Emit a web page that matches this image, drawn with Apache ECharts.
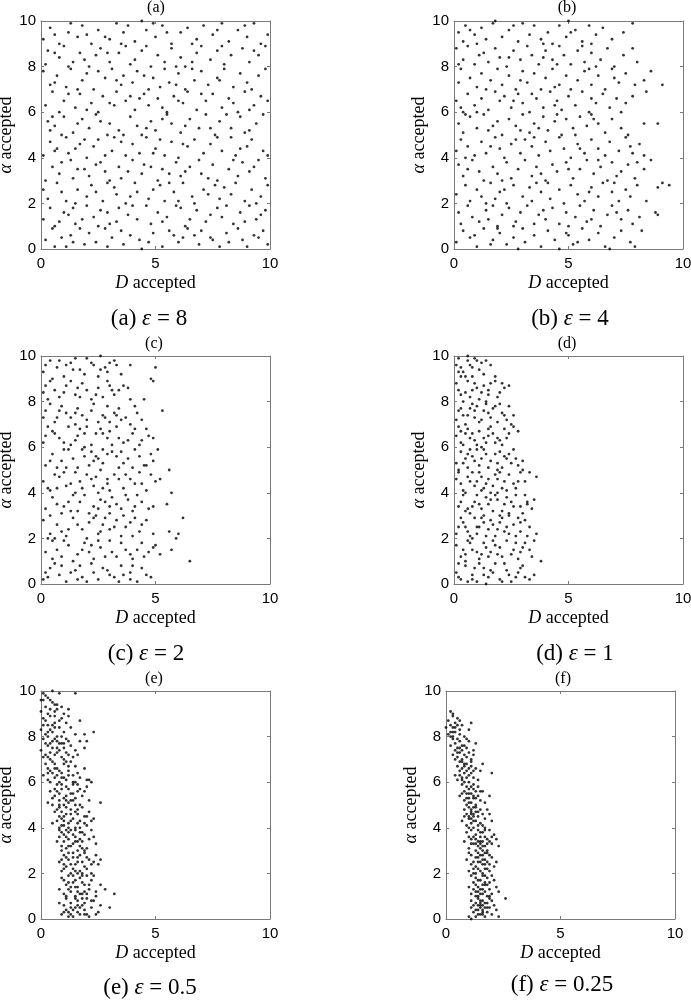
<!DOCTYPE html>
<html>
<head>
<meta charset="utf-8">
<script src="https://cdn.jsdelivr.net/npm/echarts@6/dist/echarts.min.js"></script>
<style>
  html, body { margin: 0; padding: 0; background: #fff; }
  #chart { width: 691px; height: 1002px; }
</style>
</head>
<body>
<div id="chart"></div>
<script>
// tick labels
const xTicks = [0, 5, 10]
const yTicks = [0, 2, 4, 6, 8, 10]
// panel captions
const panelLetters = ['a', 'b', 'c', 'd', 'e', 'f']
const epsValues = ['8', '4', '2', '1', '0.5', '0.25']

// accepted samples [D, alpha]
const pointsA = [
  [0.2,0.4],[0.5,0.9],[0.6,0.1],[1.3,0.6],[1.4,0.3],[1.9,0.2],[2.1,0.7],[2.8,0.9],[2.9,0.1],[3.1,0.5],[3.5,0.8],[3.6,0.2],[4.3,0.4],[4.4,0.0],[4.9,0.7],[5.3,0.1],[5.8,0.6],[6.0,0.3],[6.4,0.9],[6.9,0.2],[7.0,0.8],[7.4,0.5],[7.5,0.4],[8.1,0.7],[8.2,0.3],[8.6,0.9],[9.0,0.1],[9.3,0.6],[9.5,0.5],[9.9,0.2],[0.9,0.5],[1.7,0.9],[2.4,0.3],[3.9,0.6],[5.6,0.8],[6.7,0.6],[7.8,0.1],[8.8,0.4],[9.7,0.8],[4.7,0.3],[1.1,0.1],[6.2,0.5],
  [0.1,1.3],[0.4,1.8],[0.8,1.2],[1.0,1.6],[1.2,1.5],[1.5,1.1],[2.0,1.9],[2.3,1.4],[2.5,1.0],[2.6,1.7],[3.3,1.2],[3.4,1.8],[3.8,1.5],[4.2,1.3],[4.6,1.9],[4.8,1.1],[5.1,1.6],[5.5,1.4],[5.9,1.9],[6.3,1.0],[6.5,1.3],[6.8,1.7],[7.2,1.2],[7.7,1.8],[7.9,1.4],[8.4,1.1],[8.7,1.6],[9.1,1.9],[9.4,1.3],[9.8,1.7],[0.6,1.0],[1.8,1.3],[2.9,1.6],[4.0,1.9],[5.3,1.2],[6.1,1.8],[7.4,1.5],[8.9,1.2],[9.6,1.5],[3.0,1.1],[1.4,1.8],[8.1,1.9],
  [0.3,2.2],[0.7,2.9],[0.9,2.5],[1.5,2.0],[1.6,2.6],[2.0,2.3],[2.2,2.8],[2.7,2.1],[3.2,2.7],[3.3,2.4],[3.7,2.0],[4.1,2.9],[4.2,2.5],[4.7,2.2],[5.2,2.8],[5.4,2.1],[5.8,2.5],[6.2,2.9],[6.6,2.3],[6.7,2.0],[7.1,2.6],[7.6,2.8],[7.8,2.2],[8.3,2.4],[8.5,2.9],[8.9,2.1],[9.2,2.6],[9.6,2.3],[9.9,2.8],[0.1,2.6],[1.1,2.1],[2.4,2.5],[3.9,2.3],[4.9,2.6],[6.0,2.1],[7.3,2.4],[8.0,2.7],[9.4,2.0],[5.6,2.9],[2.9,2.9],
  [0.2,3.0],[0.5,3.6],[0.8,3.3],[1.3,3.9],[1.4,3.1],[1.9,3.5],[2.1,3.2],[2.6,3.8],[2.8,3.4],[3.4,3.6],[3.5,3.1],[4.0,3.9],[4.4,3.3],[4.5,3.7],[5.1,3.0],[5.3,3.5],[5.9,3.8],[6.1,3.2],[6.5,3.6],[6.9,3.9],[7.0,3.3],[7.5,3.7],[7.7,3.0],[8.2,3.5],[8.6,3.2],[8.8,3.8],[9.1,3.4],[9.5,3.9],[9.8,3.1],[0.9,3.8],[1.6,3.5],[3.0,3.0],[3.8,3.4],[4.8,3.6],[5.6,3.3],[6.3,3.4],[7.3,3.1],[8.4,3.9],[9.3,3.6],[2.4,3.7],
  [0.1,4.1],[0.4,4.7],[0.7,4.4],[1.1,4.9],[1.2,4.2],[1.7,4.6],[2.0,4.0],[2.3,4.5],[2.5,4.8],[3.1,4.3],[3.2,4.9],[3.7,4.1],[4.0,4.6],[4.3,4.2],[4.6,4.9],[5.0,4.4],[5.4,4.1],[5.7,4.7],[6.0,4.0],[6.4,4.5],[6.7,4.8],[7.1,4.2],[7.4,4.6],[7.9,4.3],[8.3,4.9],[8.5,4.1],[9.0,4.5],[9.2,4.8],[9.7,4.3],[9.9,4.1],[0.6,4.3],[1.5,4.4],[2.8,4.1],[3.5,4.7],[4.9,4.2],[6.2,4.6],[7.7,4.9],[8.7,4.4],[5.2,4.8],[1.9,4.8],
  [0.3,5.6],[0.4,5.2],[0.6,5.4],[1.0,5.8],[1.4,5.1],[1.8,5.7],[2.1,5.3],[2.4,5.9],[2.9,5.0],[3.0,5.5],[3.4,5.2],[3.9,5.8],[4.2,5.4],[4.4,5.0],[4.8,5.6],[5.0,5.2],[5.5,5.9],[5.7,5.5],[6.1,5.1],[6.5,5.7],[6.9,5.3],[7.2,5.9],[7.6,5.0],[7.8,5.6],[8.3,5.3],[8.7,5.8],[8.9,5.1],[9.4,5.5],[9.7,5.9],[0.9,5.0],[1.6,5.5],[2.6,5.6],[3.6,5.0],[4.6,5.3],[5.3,5.7],[6.3,5.4],[7.4,5.3],[8.1,5.9],[9.1,5.2],[0.5,5.8],
  [0.2,6.3],[0.5,6.9],[0.8,6.0],[1.0,6.5],[1.5,6.2],[1.7,6.8],[2.2,6.4],[2.5,6.0],[2.7,6.7],[3.2,6.3],[3.3,6.9],[3.7,6.5],[4.1,6.1],[4.5,6.8],[4.7,6.3],[5.1,6.6],[5.5,6.0],[5.8,6.7],[6.2,6.4],[6.4,6.9],[6.8,6.1],[7.2,6.5],[7.5,6.8],[7.9,6.2],[8.2,6.6],[8.6,6.0],[8.9,6.9],[9.3,6.3],[9.6,6.7],[9.9,6.5],[1.2,6.8],[2.0,6.1],[3.0,6.4],[3.9,6.7],[5.3,6.2],[6.0,6.5],[7.0,6.8],[8.4,6.4],[9.1,6.1],[4.3,6.6],
  [0.1,7.8],[0.4,7.2],[0.7,7.6],[1.1,7.1],[1.3,7.9],[1.8,7.4],[2.0,7.7],[2.3,7.0],[2.8,7.5],[3.1,7.9],[3.5,7.2],[3.6,7.6],[4.0,7.3],[4.2,7.8],[4.7,7.0],[4.9,7.5],[5.4,7.9],[5.6,7.3],[6.0,7.7],[6.3,7.0],[6.7,7.4],[7.0,7.8],[7.3,7.2],[7.7,7.5],[8.0,7.9],[8.4,7.1],[8.7,7.7],[9.0,7.3],[9.5,7.6],[9.8,7.9],[0.6,7.3],[1.6,7.0],[2.5,7.8],[3.3,7.4],[4.5,7.6],[5.9,7.2],[6.6,7.9],[7.8,7.4],[9.2,7.0],[5.2,7.1],
  [0.2,8.1],[0.3,8.7],[0.8,8.4],[1.0,8.9],[1.4,8.2],[1.7,8.6],[2.1,8.0],[2.4,8.5],[2.6,8.8],[3.0,8.2],[3.4,8.6],[3.7,8.9],[4.1,8.3],[4.4,8.7],[4.8,8.0],[5.1,8.5],[5.4,8.2],[5.7,8.8],[6.1,8.4],[6.3,8.0],[6.8,8.6],[7.0,8.9],[7.4,8.3],[7.7,8.7],[8.0,8.1],[8.3,8.5],[8.8,8.8],[9.1,8.2],[9.5,8.5],[9.8,8.9],[0.6,8.6],[1.2,8.0],[2.9,8.6],[3.9,8.1],[4.6,8.9],[5.9,8.0],[6.6,8.2],[7.9,8.9],[9.3,8.7],[1.9,8.3],
  [0.1,9.2],[0.4,9.7],[0.6,9.4],[1.2,9.5],[1.3,9.9],[1.6,9.3],[1.8,9.8],[2.2,9.0],[2.5,9.6],[3.0,9.2],[3.3,9.9],[3.6,9.5],[3.8,9.8],[4.1,9.1],[4.4,10.0],[4.6,9.6],[5.0,9.3],[5.3,9.8],[5.7,9.0],[6.1,9.5],[6.4,9.7],[6.8,9.2],[7.1,9.8],[7.5,9.4],[7.9,9.9],[8.2,9.1],[8.6,9.6],[9.0,9.3],[9.3,9.9],[9.6,9.0],[0.8,9.0],[2.0,9.4],[2.8,9.3],[4.9,9.9],[6.6,9.0],[7.7,9.6],[8.9,9.8],[9.9,9.4],[5.5,9.5],[3.5,9.0]
]

const pointsB = [
  [0.1,0.3],[0.4,0.8],[0.7,0.5],[1.0,0.1],[1.3,0.9],[1.6,0.2],[1.7,0.4],[2.0,0.7],[2.3,0.2],[2.6,0.5],[3.0,0.9],[3.1,0.3],[3.5,0.6],[3.8,0.1],[4.1,0.8],[4.4,0.4],[4.6,0.0],[5.0,0.6],[5.2,0.2],[5.6,0.9],[5.9,0.4],[6.3,0.7],[6.6,0.1],[6.8,0.0],[7.0,0.5],[7.3,0.8],[7.7,0.3],[8.2,0.8],[2.8,0.0],[5.4,0.3],[1.9,0.9],[4.9,0.7],[7.9,0.1],[0.9,0.6],
  [0.2,1.6],[0.3,1.1],[0.6,1.9],[0.8,1.4],[1.1,1.2],[1.4,1.7],[1.5,1.3],[1.9,1.0],[2.1,1.5],[2.4,1.8],[2.7,1.2],[2.9,1.6],[3.2,1.9],[3.5,1.1],[3.7,1.5],[4.0,1.3],[4.3,1.8],[4.6,1.1],[4.9,1.6],[5.3,1.4],[5.5,1.9],[5.8,1.2],[6.1,1.7],[6.4,1.0],[6.7,1.5],[6.9,1.9],[7.3,1.3],[7.6,1.7],[7.8,1.1],[8.1,1.4],[8.8,1.6],[8.9,1.5],[1.7,1.9],[3.9,1.7],[6.0,1.3],[2.6,1.0],[5.0,1.0],[7.1,1.6],
  [0.1,2.4],[0.5,2.8],[0.7,2.1],[1.0,2.6],[1.2,2.3],[1.6,2.9],[1.8,2.2],[2.2,2.6],[2.3,2.0],[2.6,2.8],[3.0,2.3],[3.3,2.7],[3.4,2.1],[3.8,2.5],[4.1,2.9],[4.2,2.2],[4.6,2.6],[4.8,2.0],[5.1,2.8],[5.4,2.4],[5.7,2.1],[6.0,2.7],[6.3,2.3],[6.5,2.9],[6.9,2.5],[7.2,2.1],[7.5,2.6],[7.7,2.3],[8.0,2.8],[8.4,2.1],[8.9,2.7],[9.1,2.9],[9.4,2.8],[2.0,2.5],[3.6,2.9],[5.9,2.5],[7.0,2.9],[1.4,2.0],
  [0.2,3.7],[0.4,3.2],[0.8,3.9],[1.1,3.4],[1.3,3.0],[1.7,3.6],[1.9,3.3],[2.3,3.8],[2.5,3.1],[2.8,3.5],[3.1,3.9],[3.4,3.2],[3.6,3.6],[4.0,3.0],[4.3,3.7],[4.5,3.4],[4.9,3.8],[5.2,3.1],[5.5,3.5],[5.8,3.9],[6.1,3.3],[6.4,3.6],[6.7,3.0],[6.9,3.8],[7.3,3.4],[7.6,3.7],[7.9,3.1],[8.3,3.5],[8.6,3.9],[0.6,3.5],[2.1,3.0],[3.8,3.3],[5.0,3.5],[6.3,3.9],[7.1,3.2],[8.0,3.8],
  [0.1,4.3],[0.3,4.8],[0.6,4.5],[0.9,4.1],[1.2,4.7],[1.4,4.2],[1.8,4.9],[2.0,4.4],[2.2,4.0],[2.5,4.6],[2.9,4.2],[3.1,4.8],[3.4,4.5],[3.7,4.1],[4.0,4.7],[4.2,4.3],[4.6,4.9],[4.8,4.4],[5.1,4.0],[5.4,4.6],[5.7,4.2],[6.0,4.8],[6.3,4.4],[6.6,4.1],[6.8,4.7],[7.2,4.3],[7.5,4.9],[7.8,4.2],[8.1,4.6],[8.3,4.1],[7.7,4.5],[1.6,4.5],[3.5,4.9],[5.5,4.4],[0.5,4.0],[2.7,4.8],
  [0.2,5.5],[0.4,5.1],[0.7,5.8],[1.0,5.3],[1.3,5.9],[1.5,5.2],[1.9,5.6],[2.1,5.0],[2.4,5.7],[2.7,5.4],[3.0,5.9],[3.3,5.1],[3.5,5.5],[3.9,5.8],[4.1,5.2],[4.4,5.6],[4.7,5.0],[4.9,5.7],[5.2,5.3],[5.5,5.8],[5.8,5.4],[6.0,5.9],[6.3,5.5],[6.6,5.1],[6.9,5.7],[7.3,5.3],[7.6,5.0],[8.3,5.5],[8.9,5.5],[1.7,5.4],[3.7,5.3],[5.3,5.0],[6.1,5.7],[2.9,5.2],[4.5,5.9],[0.5,5.9],
  [0.1,6.5],[0.4,6.0],[0.6,6.8],[0.9,6.3],[1.2,6.6],[1.5,6.1],[1.8,6.9],[2.0,6.5],[2.2,6.7],[2.5,6.2],[2.8,6.8],[3.0,6.4],[3.3,6.0],[3.6,6.6],[3.9,6.2],[4.2,6.9],[4.5,6.5],[4.7,6.1],[5.0,6.7],[5.3,6.3],[5.6,6.9],[5.9,6.0],[6.2,6.4],[6.5,6.8],[6.8,6.2],[7.1,6.6],[7.5,6.4],[7.8,6.7],[8.4,6.9],[1.0,6.0],[2.6,6.5],[4.4,6.3],[6.0,6.6],[7.3,6.0],[3.4,6.8],[0.3,6.2],
  [0.2,7.3],[0.3,7.9],[0.7,7.5],[1.0,7.1],[1.2,7.7],[1.6,7.4],[1.9,7.9],[2.1,7.2],[2.4,7.6],[2.7,7.0],[3.0,7.8],[3.2,7.3],[3.5,7.7],[3.8,7.0],[4.0,7.5],[4.3,7.9],[4.6,7.2],[4.9,7.6],[5.1,7.0],[5.4,7.4],[5.7,7.8],[6.0,7.2],[6.3,7.6],[6.6,7.0],[6.9,7.9],[7.2,7.3],[7.5,7.7],[7.9,7.2],[8.3,7.4],[8.6,7.8],[9.1,7.2],[1.4,7.0],[2.9,7.4],[4.4,7.1],[5.9,7.9],[7.0,7.5],
  [0.1,8.8],[0.4,8.3],[0.6,8.9],[0.9,8.1],[1.3,8.6],[1.5,8.2],[1.8,8.8],[2.0,8.4],[2.3,8.0],[2.6,8.7],[2.9,8.3],[3.2,8.9],[3.4,8.5],[3.7,8.1],[4.0,8.7],[4.3,8.3],[4.6,8.9],[4.8,8.5],[5.1,8.1],[5.4,8.7],[5.7,8.2],[6.0,8.6],[6.4,8.3],[6.7,8.8],[7.0,8.0],[7.4,8.5],[7.8,8.8],[8.0,8.2],[1.1,8.5],[2.4,8.4],[3.9,8.4],[5.6,8.9],[6.2,8.0],[0.2,8.1],[4.5,8.1],
  [0.2,9.5],[0.4,9.1],[0.5,9.8],[0.9,9.4],[1.2,9.7],[1.4,9.2],[1.7,9.9],[1.8,10.0],[2.1,9.3],[2.4,9.6],[2.8,9.1],[3.0,9.9],[3.3,9.4],[3.5,9.8],[3.8,9.2],[4.1,9.5],[4.3,9.0],[4.6,9.8],[4.9,9.3],[5.0,10.0],[5.3,9.6],[5.6,9.1],[5.9,9.8],[6.2,9.4],[6.5,9.7],[6.9,9.2],[7.4,9.5],[7.8,9.9],[1.0,9.0],[2.6,9.8],[3.9,9.0],[5.1,9.5],[6.0,9.0],[0.7,9.6]
]

const pointsC = [
  [0.1,0.2],[0.4,0.7],[0.8,0.4],[1.1,0.1],[1.5,0.6],[1.8,0.3],[2.2,0.9],[2.5,0.2],[2.9,0.6],[3.2,0.3],[3.5,0.8],[3.9,0.5],[4.2,0.1],[4.6,0.4],[4.8,0.3],[0.6,0.9],[1.3,0.5],[2.0,0.1],[2.7,0.7],[3.4,0.1],[4.0,0.8],[0.2,0.5],[6.5,1.0],[1.7,0.8],[3.0,0.4],
  [0.2,1.4],[0.5,1.9],[0.9,1.2],[1.2,1.7],[1.6,1.3],[1.9,1.8],[2.3,1.1],[2.6,1.6],[3.0,1.9],[3.3,1.2],[3.7,1.5],[4.0,1.1],[4.4,1.8],[4.7,1.4],[5.2,1.3],[5.7,1.5],[0.7,1.5],[1.4,1.0],[2.1,1.4],[2.8,1.2],[3.5,1.8],[4.2,1.5],[3.9,1.3],[4.9,1.6],[1.0,1.9],
  [0.1,2.8],[0.4,2.2],[0.7,2.6],[1.1,2.1],[1.4,2.9],[1.8,2.4],[2.1,2.7],[2.5,2.2],[2.8,2.9],[3.2,2.5],[3.5,2.1],[3.9,2.7],[4.3,2.3],[4.6,2.8],[4.9,2.2],[5.6,2.3],[6.0,2.2],[5.9,2.0],[0.9,2.3],[1.6,2.6],[2.3,2.9],[3.0,2.4],[3.7,2.5],[4.1,2.9],[2.7,2.6],
  [0.2,3.3],[0.5,3.8],[0.9,3.1],[1.2,3.6],[1.6,3.2],[1.9,3.9],[2.3,3.4],[2.6,3.7],[3.0,3.1],[3.3,3.5],[3.7,3.9],[4.0,3.2],[4.4,3.6],[4.7,3.3],[5.5,3.5],[6.2,2.9],[0.7,3.5],[1.4,3.9],[2.1,3.1],[2.8,3.6],[3.5,3.3],[4.2,3.9],[3.1,3.8],[1.0,3.4],[2.4,3.0],
  [0.1,4.5],[0.4,4.1],[0.8,4.7],[1.1,4.3],[1.5,4.9],[1.8,4.2],[2.2,4.6],[2.5,4.0],[2.9,4.4],[3.2,4.8],[3.6,4.2],[3.9,4.6],[4.3,4.9],[4.6,4.1],[5.0,4.5],[5.7,4.0],[0.6,4.8],[1.3,4.4],[2.0,4.8],[2.7,4.2],[3.4,4.6],[4.1,4.4],[4.8,4.8],[5.6,5.0],[2.4,4.7],
  [0.2,5.2],[0.5,5.7],[0.9,5.4],[1.2,5.9],[1.6,5.1],[1.9,5.6],[2.2,5.8],[2.4,5.6],[2.7,5.3],[3.1,5.8],[3.4,5.1],[3.8,5.5],[4.1,5.9],[4.5,5.2],[4.8,5.7],[5.1,5.9],[0.7,5.1],[1.4,5.5],[2.1,5.2],[2.9,5.7],[3.6,5.3],[4.3,5.6],[2.5,5.5],[4.6,5.2],[1.0,5.9],
  [0.1,6.2],[0.5,6.7],[0.8,6.4],[1.2,6.9],[1.5,6.3],[1.9,6.6],[2.2,6.1],[2.6,6.8],[2.9,6.4],[3.3,6.9],[3.6,6.2],[4.0,6.6],[4.3,6.1],[4.7,6.5],[4.9,6.4],[0.6,6.6],[1.3,6.1],[2.0,6.9],[2.7,6.6],[3.4,6.4],[4.1,6.8],[0.3,6.9],[1.7,6.8],[3.1,6.1],[4.4,6.3],
  [0.2,7.6],[0.6,7.1],[0.9,7.8],[1.3,7.3],[1.6,7.7],[2.0,7.2],[2.3,7.9],[2.7,7.4],[3.0,7.1],[3.4,7.7],[3.7,7.3],[4.1,7.8],[4.4,7.2],[5.3,7.6],[0.4,7.9],[1.1,7.5],[1.8,7.4],[2.5,7.1],[3.2,7.5],[3.9,7.0],[0.7,7.3],[2.9,7.8],[1.5,7.0],[3.5,7.2],
  [0.1,8.4],[0.4,8.9],[0.8,8.2],[1.1,8.7],[1.5,8.3],[1.8,8.8],[2.2,8.1],[2.5,8.6],[2.9,8.9],[3.2,8.3],[3.6,8.7],[3.9,8.1],[4.5,8.1],[0.6,8.5],[1.3,8.9],[2.0,8.5],[2.7,8.2],[3.4,8.5],[4.9,8.9],[0.3,8.1],[1.6,8.6],[3.0,8.7],
  [0.1,9.3],[0.4,9.8],[0.7,9.5],[1.0,9.1],[1.3,9.7],[1.7,9.4],[2.0,9.9],[2.3,9.6],[2.6,10.0],[2.9,9.3],[3.2,9.8],[3.5,9.2],[3.9,9.6],[5.0,9.5],[0.5,9.0],[1.5,9.9],[2.5,9.1],[3.0,9.7],[4.8,9.0],[1.1,9.6],[2.8,9.5],
  [0.3,0.3],[0.9,0.8],[1.6,0.2],[2.3,0.5],[3.6,0.4],[4.4,0.7],[0.5,1.1],[1.8,1.5],[2.5,1.9],[3.1,1.4],[4.5,1.2],[5.0,1.7],[0.3,2.0],[1.2,2.4],[2.0,2.0],[3.3,2.8],[4.0,2.1],[4.4,2.6],[0.4,3.0],[1.7,3.6],[2.5,3.3],[3.6,3.0],[3.8,3.7],[4.9,3.4],[0.3,4.2],[1.0,4.9],[1.7,4.5],[2.3,4.3],[3.0,4.1],[3.7,4.8],[4.4,4.4],[5.2,4.6],[0.4,5.4],[1.1,5.1],[1.8,5.9],[2.3,5.4],[3.3,5.6],[4.0,5.1],[4.9,5.4],[0.2,6.5],[1.0,6.2],[1.6,6.5],[2.4,6.6],[3.0,6.7],[3.8,6.3],[4.6,6.8],[0.1,7.3],[0.8,7.6],[1.5,7.5],[2.2,7.6],[2.8,7.3],[3.3,7.4],[4.2,7.5],[0.2,8.7],[1.0,8.4],[1.7,8.2],[2.4,8.3],[3.1,8.5],[3.8,8.6],[0.2,9.6],[0.8,9.8],[1.9,9.2],[2.6,9.4],[3.3,9.6],[1.4,9.4],[2.2,9.7],[2.7,5.9],[2.6,5.0],[2.9,4.6],[1.3,3.2],[0.6,2.0],[3.9,0.2],[2.6,2.3],[4.1,3.4],[3.5,5.8],[0.7,4.2],[1.9,6.0],[3.0,3.4],[2.2,1.7],[1.5,4.0]
]

const pointsD = [
  [0.1,0.5],[0.3,0.2],[0.5,0.8],[0.8,0.4],[1.0,0.1],[1.3,0.7],[1.5,0.3],[1.8,0.9],[2.0,0.2],[2.3,0.6],[2.5,0.1],[2.8,0.5],[3.0,0.8],[3.3,0.2],[3.5,0.4],[3.8,1.0],[0.6,0.1],[1.1,0.9],[1.7,0.5],[2.2,0.9],[2.7,0.3],[0.2,0.9],[1.4,0.0],[3.1,0.3],
  [0.1,1.7],[0.3,1.2],[0.6,1.9],[0.8,1.5],[1.1,1.1],[1.3,1.8],[1.6,1.4],[1.8,1.7],[2.1,1.2],[2.3,1.9],[2.6,1.5],[2.8,1.1],[3.1,1.8],[3.3,1.5],[3.5,1.9],[0.5,1.0],[1.0,1.4],[1.5,1.2],[2.0,1.6],[2.5,1.3],[3.0,1.6],[0.7,1.8],[1.7,1.9],[2.9,1.4],[1.2,1.3],
  [0.1,2.2],[0.4,2.7],[0.6,2.3],[0.9,2.9],[1.1,2.5],[1.4,2.1],[1.6,2.8],[1.9,2.4],[2.1,2.9],[2.4,2.2],[2.6,2.6],[2.9,2.3],[3.1,2.8],[3.3,2.5],[0.3,2.9],[0.8,2.0],[1.3,2.7],[1.8,2.1],[2.3,2.5],[2.8,2.9],[0.5,2.5],[1.5,2.4],[2.0,2.7],[3.2,2.1],[1.0,2.2],
  [0.2,3.4],[0.4,3.9],[0.7,3.1],[0.9,3.6],[1.2,3.3],[1.4,3.8],[1.7,3.2],[1.9,3.7],[2.2,3.5],[2.4,3.1],[2.7,3.9],[2.9,3.4],[3.2,3.6],[3.5,3.7],[0.5,3.2],[1.0,3.9],[1.5,3.5],[2.0,3.0],[2.5,3.6],[3.0,3.1],[0.8,3.4],[1.3,3.0],[1.8,3.9],[2.3,3.8],[3.4,3.3],
  [0.1,4.6],[0.4,4.1],[0.6,4.7],[0.9,4.3],[1.1,4.9],[1.4,4.4],[1.6,4.0],[1.9,4.6],[2.1,4.2],[2.4,4.8],[2.6,4.4],[2.9,4.9],[3.1,4.5],[3.6,4.7],[0.3,4.4],[0.8,4.9],[1.3,4.2],[1.8,4.8],[2.3,4.1],[2.8,4.5],[0.5,4.0],[1.5,4.6],[2.0,4.9],[3.0,5.0],[1.0,4.5],
  [0.1,5.3],[0.3,5.8],[0.6,5.1],[0.8,5.6],[1.1,5.2],[1.3,5.9],[1.6,5.4],[1.8,5.7],[2.1,5.1],[2.3,5.5],[2.6,5.9],[2.8,5.2],[3.0,5.4],[0.5,5.5],[1.0,5.9],[1.5,5.1],[2.0,5.8],[2.5,5.3],[0.2,5.0],[1.2,5.5],[1.9,5.3],[2.4,5.7],[0.7,5.9],
  [0.1,6.5],[0.4,6.1],[0.6,6.8],[0.9,6.3],[1.1,6.7],[1.4,6.2],[1.6,6.9],[1.9,6.4],[2.1,6.1],[2.4,6.6],[2.6,6.9],[0.2,6.9],[0.7,6.4],[1.2,6.0],[1.7,6.6],[2.2,6.8],[2.8,6.7],[0.5,6.6],[1.0,6.1],[1.5,6.5],[2.0,6.3],[0.3,6.2],
  [0.1,7.2],[0.3,7.7],[0.6,7.4],[0.8,7.9],[1.1,7.1],[1.3,7.6],[1.6,7.3],[1.8,7.8],[2.1,7.5],[2.3,7.2],[2.6,7.4],[0.5,7.0],[1.0,7.8],[1.5,7.5],[2.0,7.9],[0.2,7.6],[0.9,7.3],[1.4,7.9],[1.9,7.1],[2.4,7.8],[0.7,7.7],
  [0.1,8.8],[0.3,8.3],[0.6,8.9],[0.8,8.5],[1.1,8.1],[1.3,8.7],[1.5,8.3],[1.8,8.9],[2.0,8.4],[2.2,8.6],[2.4,8.7],[0.4,8.0],[0.9,8.8],[1.4,8.0],[1.9,8.2],[0.2,8.5],[0.7,8.2],[1.2,8.4],[1.6,8.8],
  [0.1,9.6],[0.2,9.9],[0.4,9.3],[0.6,9.8],[0.8,9.1],[0.9,9.9],[1.1,9.4],[1.3,9.2],[1.6,9.6],[0.3,9.5],[0.7,9.6],[1.0,9.8],[0.5,9.1],[1.2,9.7],[1.8,9.1],[0.6,10.0],
  [0.2,0.3],[0.9,0.7],[1.6,0.6],[2.4,0.4],[2.9,0.7],[0.4,1.5],[1.4,1.6],[1.9,1.3],[2.7,1.8],[3.4,1.2],[0.2,2.5],[0.7,2.1],[1.2,2.9],[1.7,2.6],[2.2,2.3],[2.7,2.1],[0.3,3.6],[0.6,3.3],[1.1,3.5],[1.6,3.7],[2.1,3.2],[2.6,3.4],[3.1,3.9],[0.2,4.9],[0.7,4.5],[1.2,4.7],[1.7,4.3],[2.2,4.5],[2.7,4.2],[3.3,4.9],[0.4,5.3],[0.9,5.4],[1.4,5.7],[1.9,5.0],[2.2,5.6],[2.7,5.5],[0.3,6.7],[0.8,6.6],[1.3,6.4],[1.8,6.2],[2.3,6.4],[0.4,7.4],[0.9,7.6],[1.2,7.2],[1.7,7.7],[2.2,7.4],[0.5,8.4],[1.0,8.6],[1.5,8.5],[2.1,8.8],[0.3,9.1],[0.8,9.5],[1.4,9.8],[0.2,9.3],[1.2,4.1],[2.4,3.0],[0.5,1.3],[1.0,2.5],[2.9,2.7],[3.2,3.5],[1.5,6.8],[0.6,5.7],[2.5,7.0],[1.9,4.0],[0.8,0.2],[2.1,0.1],[3.6,2.2],[1.3,0.4]
]

const pointsE = [
  [0.9,0.2],[1.0,0.6],[1.1,0.9],[1.2,0.3],[1.3,0.7],[1.4,0.1],[1.5,0.5],[1.6,0.8],[1.7,0.2],[1.8,0.6],[1.9,0.4],[2.0,0.9],[2.1,0.1],[2.2,0.5],[2.3,0.8],[2.5,0.3],[2.6,0.6],[3.0,0.5],[0.8,0.7],[1.2,0.1],[1.4,0.4],[1.6,0.3],[1.8,0.9],[2.0,0.2],[1.1,0.4],[1.5,0.9],[1.9,0.7],[2.4,0.2],[1.7,0.5],[1.3,0.2],
  [0.8,1.3],[0.9,1.8],[1.0,1.1],[1.1,1.5],[1.2,1.9],[1.3,1.2],[1.4,1.6],[1.5,1.0],[1.6,1.4],[1.7,1.8],[1.8,1.1],[1.9,1.5],[2.0,1.9],[2.1,1.3],[2.2,1.7],[2.4,1.2],[2.6,1.5],[2.8,1.3],[3.2,1.1],[1.0,1.7],[1.2,1.3],[1.4,1.9],[1.6,1.2],[1.8,1.6],[2.0,1.1],[2.3,1.9],[1.1,1.0],[1.5,1.7],[1.9,1.2],[1.3,1.4],
  [0.8,2.5],[0.9,2.1],[1.0,2.8],[1.1,2.3],[1.2,2.6],[1.3,2.0],[1.4,2.9],[1.5,2.4],[1.6,2.7],[1.7,2.1],[1.8,2.5],[1.9,2.9],[2.0,2.2],[2.1,2.6],[2.2,2.0],[2.4,2.8],[2.5,2.4],[2.6,2.6],[1.0,2.4],[1.2,2.9],[1.4,2.2],[1.6,2.5],[1.8,2.0],[2.0,2.7],[1.1,2.7],[1.5,2.1],[1.9,2.3],[2.3,2.5],[0.9,2.6],[1.7,2.8],
  [0.7,3.4],[0.8,3.9],[0.9,3.2],[1.0,3.7],[1.1,3.1],[1.2,3.5],[1.3,3.9],[1.4,3.3],[1.5,3.6],[1.6,3.0],[1.7,3.8],[1.8,3.4],[1.9,3.7],[2.0,3.1],[2.1,3.5],[2.2,3.9],[2.4,3.3],[0.9,3.8],[1.1,3.6],[1.3,3.2],[1.5,3.9],[1.7,3.5],[1.9,3.0],[2.3,3.6],[1.0,3.4],[1.4,3.7],[1.8,3.1],[0.8,3.6],[1.2,3.8],[1.6,3.4],
  [0.5,4.2],[0.6,4.7],[0.7,4.3],[0.8,4.9],[0.9,4.4],[1.0,4.1],[1.1,4.6],[1.2,4.2],[1.3,4.8],[1.4,4.4],[1.5,4.0],[1.6,4.6],[1.7,4.3],[1.8,4.9],[1.9,4.5],[2.0,4.1],[2.1,4.7],[2.2,4.3],[2.3,4.4],[0.7,4.8],[0.9,4.1],[1.1,4.9],[1.3,4.3],[1.5,4.7],[1.7,4.0],[1.9,4.2],[1.0,4.5],[1.2,4.0],[1.6,4.8],[0.8,4.5],
  [0.3,5.1],[0.4,5.6],[0.5,5.0],[0.6,5.4],[0.7,5.9],[0.8,5.2],[0.9,5.7],[1.0,5.3],[1.1,5.8],[1.2,5.1],[1.3,5.5],[1.4,5.9],[1.5,5.3],[1.6,5.6],[1.7,5.0],[1.8,5.4],[2.0,5.8],[2.1,5.2],[2.6,5.1],[0.6,5.7],[0.8,5.5],[1.0,5.0],[1.2,5.7],[1.4,5.2],[1.6,5.9],[1.9,5.6],[1.1,5.4],[1.5,5.0],[0.9,5.9],[1.3,5.2],
  [0.1,6.3],[0.2,6.8],[0.3,6.1],[0.4,6.5],[0.5,6.9],[0.6,6.2],[0.7,6.6],[0.8,6.0],[0.9,6.4],[1.0,6.8],[1.1,6.1],[1.2,6.5],[1.3,6.9],[1.4,6.3],[1.5,6.7],[1.7,6.2],[1.9,6.6],[2.0,6.1],[2.2,6.0],[0.4,6.0],[0.6,6.8],[0.8,6.5],[1.0,6.2],[1.2,6.7],[1.4,6.0],[1.6,6.4],[0.3,6.6],[0.7,6.3],[1.1,6.9],[2.1,6.1],
  [0.0,7.4],[0.1,7.9],[0.2,7.2],[0.3,7.6],[0.4,7.0],[0.5,7.5],[0.6,7.9],[0.7,7.3],[0.8,7.7],[0.9,7.1],[1.0,7.5],[1.1,7.9],[1.2,7.2],[1.3,7.6],[1.5,7.4],[1.7,7.8],[1.9,7.5],[2.0,7.8],[0.3,7.1],[0.5,7.8],[0.7,7.5],[0.9,7.7],[1.1,7.3],[0.2,7.7],[0.6,7.2],[0.8,7.4],[1.4,7.1],[1.0,7.0],[0.4,7.3],[1.6,7.2],
  [0.0,8.3],[0.1,8.8],[0.2,8.1],[0.3,8.5],[0.4,8.9],[0.5,8.2],[0.6,8.6],[0.7,8.0],[0.8,8.4],[0.9,8.8],[1.0,8.2],[1.1,8.6],[1.3,8.4],[1.5,8.1],[1.7,8.7],[1.9,8.1],[2.3,8.2],[0.2,8.7],[0.4,8.3],[0.6,8.9],[0.8,8.7],[1.2,8.9],[0.3,8.0],[0.5,8.5],
  [0.0,9.1],[0.1,9.6],[0.1,9.9],[0.2,9.3],[0.3,9.7],[0.4,9.2],[0.5,9.5],[0.6,9.1],[0.7,9.4],[0.8,9.9],[0.9,9.3],[1.0,9.0],[1.2,9.2],[1.5,9.9],[0.2,9.8],[0.4,9.6],[0.6,9.4],[0.3,9.0],[0.5,10.0],[0.0,9.6],
  [1.0,0.3],[1.3,0.5],[1.6,0.6],[1.9,0.2],[2.2,0.8],[1.2,1.6],[1.5,1.4],[1.7,1.1],[2.1,1.5],[1.0,2.2],[1.3,2.4],[1.6,2.0],[2.2,2.4],[0.9,3.0],[1.2,3.2],[1.5,3.4],[1.8,3.8],[0.8,4.0],[1.0,4.3],[1.3,4.6],[1.6,4.2],[2.0,4.5],[0.5,5.3],[0.8,5.0],[1.1,5.2],[1.4,5.5],[1.7,5.7],[0.3,6.4],[0.6,6.6],[0.9,6.2],[1.2,6.3],[1.5,6.0],[0.1,7.1],[0.4,7.7],[0.7,7.8],[1.0,7.7],[1.2,7.8],[0.1,8.5],[0.3,8.2],[0.6,8.4],[0.9,8.0],[0.7,9.2],[0.9,4.7],[1.4,2.7],[1.8,1.9],[0.7,5.6],[1.1,3.9],[0.5,6.4],[2.4,1.0],[1.7,3.2]
]

const pointsF = [
  [1.0,0.1],[1.1,0.5],[1.1,0.8],[1.2,0.3],[1.3,0.7],[1.3,0.1],[1.4,0.4],[1.4,0.9],[1.5,0.2],[1.5,0.6],[1.5,0.5],[1.6,0.8],[1.6,0.4],[1.6,0.6],[1.7,0.1],[1.7,0.5],[1.8,0.7],[1.8,0.3],[1.9,0.9],[2.0,0.2],[2.1,0.6],[2.2,0.4],[2.3,0.1],[2.6,0.9],[1.2,0.6],[1.4,0.2],[1.5,0.8],[1.7,0.7],[1.9,0.5],[1.1,0.0],[1.6,0.2],[2.0,0.8],
  [1.0,1.4],[1.1,1.9],[1.1,1.1],[1.2,1.6],[1.3,1.2],[1.3,1.8],[1.4,1.4],[1.4,1.0],[1.5,1.7],[1.5,1.3],[1.6,1.9],[1.6,1.1],[1.7,1.5],[1.7,1.2],[1.8,1.8],[1.9,1.3],[1.9,1.6],[2.0,1.1],[2.1,1.7],[2.2,1.4],[2.3,1.2],[1.2,1.3],[1.4,1.7],[1.6,1.5],[1.8,1.0],[2.0,1.9],[1.5,1.1],[1.3,1.5],[1.7,1.9],[1.9,1.0],
  [0.9,2.6],[1.0,2.1],[1.1,2.8],[1.1,2.4],[1.2,2.0],[1.3,2.7],[1.3,2.3],[1.4,2.9],[1.4,2.5],[1.5,2.1],[1.5,2.8],[1.6,2.4],[1.6,2.0],[1.7,2.6],[1.7,2.2],[1.8,2.9],[1.8,2.5],[1.9,2.1],[2.0,2.7],[2.1,2.3],[2.2,2.5],[1.2,2.5],[1.4,2.2],[1.6,2.8],[1.8,2.2],[1.0,2.9],[1.5,2.5],[1.3,2.0],[1.9,2.8],[1.7,2.4],
  [0.8,3.4],[0.9,3.8],[1.0,3.1],[1.1,3.5],[1.1,3.9],[1.2,3.3],[1.3,3.7],[1.3,3.0],[1.4,3.4],[1.4,3.2],[1.5,3.6],[1.5,3.1],[1.5,3.3],[1.6,3.8],[1.6,3.4],[1.7,3.2],[1.7,3.6],[1.8,3.0],[1.8,3.5],[1.9,3.9],[2.0,3.3],[2.1,3.7],[2.2,3.5],[2.3,3.2],[1.2,3.6],[1.4,3.9],[1.6,3.0],[1.0,3.6],[1.9,3.4],[1.3,3.5],[1.7,3.9],[1.5,3.4],
  [0.7,4.3],[0.8,4.8],[0.9,4.1],[0.9,4.6],[1.0,4.4],[1.0,4.9],[1.1,4.2],[1.1,4.6],[1.1,4.7],[1.2,4.5],[1.2,4.0],[1.2,4.9],[1.3,4.3],[1.3,4.7],[1.4,4.1],[1.4,4.5],[1.5,4.8],[1.5,4.2],[1.6,4.6],[1.7,4.0],[1.7,4.4],[1.8,4.8],[2.0,4.3],[1.0,4.0],[1.1,4.4],[1.3,4.9],[1.6,4.1],[0.8,4.5],[1.2,4.6],[1.9,4.6],
  [0.6,5.4],[0.7,5.9],[0.8,5.2],[0.8,5.6],[0.9,5.0],[0.9,5.8],[1.0,5.3],[1.0,5.7],[1.1,5.1],[1.1,5.5],[1.2,5.9],[1.2,5.3],[1.3,5.6],[1.3,5.0],[1.4,5.4],[1.4,5.8],[1.5,5.2],[1.6,5.6],[1.7,5.1],[1.9,5.4],[0.7,5.5],[1.0,5.5],[1.2,5.7],[0.9,5.3],[1.1,5.8],[1.3,5.3],
  [0.4,6.3],[0.5,6.7],[0.5,6.1],[0.6,6.5],[0.6,6.9],[0.7,6.2],[0.7,6.6],[0.8,6.0],[0.8,6.4],[0.9,6.8],[0.9,6.2],[1.0,6.6],[1.0,6.0],[1.1,6.4],[1.1,6.9],[1.2,6.2],[1.3,6.6],[1.4,6.1],[1.5,6.5],[1.6,6.8],[2.0,6.4],[0.6,6.3],[0.8,6.7],[1.0,6.3],[0.7,6.9],[1.2,6.5],
  [0.2,7.6],[0.3,7.2],[0.3,7.9],[0.4,7.4],[0.4,7.7],[0.5,7.1],[0.5,7.5],[0.6,7.8],[0.6,7.3],[0.7,7.0],[0.7,7.6],[0.8,7.2],[0.9,7.5],[0.9,7.9],[1.0,7.3],[1.1,7.0],[1.2,7.4],[1.3,7.7],[0.5,7.9],[0.8,7.6],[0.4,7.0],[0.6,7.5],[1.0,7.8],
  [0.0,8.4],[0.1,8.1],[0.1,8.7],[0.2,8.2],[0.2,8.5],[0.3,8.0],[0.3,8.4],[0.4,8.6],[0.4,8.2],[0.5,8.5],[0.6,8.1],[0.6,8.3],[0.7,8.5],[0.8,8.0],[1.0,8.3],[1.1,8.6],[0.5,8.8],[0.3,8.9],[0.2,8.0],
  [0.2,9.1],[0.3,9.0],
  [1.3,0.4],[1.5,0.7],[1.6,0.3],[1.8,0.5],[1.4,1.2],[1.6,1.3],[1.8,1.5],[1.2,2.2],[1.4,2.7],[1.6,2.6],[1.3,3.3],[1.5,3.8],[1.6,3.2],[1.8,3.3],[1.0,4.5],[1.1,4.8],[1.2,4.3],[1.4,4.7],[0.9,5.5],[1.0,5.1],[1.2,5.4],[0.7,6.1],[0.9,6.5],[1.1,6.7],[0.5,7.3],[0.7,7.4],[0.9,7.1],[0.3,8.2],[0.4,8.4],[0.6,8.7],[1.7,2.9],[1.3,1.0],[1.9,2.4],[2.0,3.6],[1.1,3.3],[1.5,5.6],[0.8,6.8],[1.2,7.2],[1.4,0.6],[1.7,1.6]
]

const allPoints = [pointsA, pointsB, pointsC, pointsD, pointsE, pointsF]

// where each sub-plot sits on the page
const boxes = [
  { left: 41, top: 21, titleX: 156, titleY: 0, capX: 149, capY: 307 },
  { left: 454, top: 21, titleX: 567, titleY: 0, capX: 570, capY: 307 },
  { left: 41, top: 356, titleX: 154, titleY: 336, capX: 146, capY: 642 },
  { left: 454, top: 356, titleX: 567, titleY: 336, capX: 575, capY: 642 },
  { left: 41, top: 691, titleX: 154, titleY: 671, capX: 150, capY: 976 },
  { left: 446, top: 691, titleX: 563, titleY: 671, capX: 562, capY: 973 }
]

const serif = 'Liberation Serif'
const sans = 'Liberation Sans'
const axisColor = '#7a7a7a'

const nameStyle = {
  fontFamily: serif,
  fontSize: 18,
  color: '#000',
  rich: {
    i: { fontFamily: serif, fontSize: 18, fontStyle: 'italic', color: '#000' }
  }
}

const grid = []
const xAxis = []
const yAxis = []
const series = []
const title = []

boxes.forEach((b, i) => {
  // fixed plot boxes: keep v6 from shrinking them to fit the axis names
  grid.push({
    left: b.left,
    top: b.top,
    width: 229,
    height: 228,
    containLabel: false,
    outerBoundsMode: 'none'
  })

  const line = { show: true, onZero: false, lineStyle: { color: axisColor, width: 1 } }
  const tick = { show: true, inside: true, length: 3, lineStyle: { color: axisColor } }
  const xBase = {
    gridIndex: i,
    type: 'value',
    min: xTicks[0],
    max: xTicks[xTicks.length - 1],
    interval: xTicks[1] - xTicks[0],
    splitLine: { show: false },
    axisLine: line,
    axisTick: tick
  }
  const yBase = {
    gridIndex: i,
    type: 'value',
    min: yTicks[0],
    max: yTicks[yTicks.length - 1],
    interval: yTicks[1] - yTicks[0],
    splitLine: { show: false },
    axisLine: line,
    axisTick: tick
  }

  xAxis.push({
    ...xBase,
    position: 'bottom',
    name: '{i|D} accepted',
    nameLocation: 'middle',
    nameGap: 25,
    nameTextStyle: nameStyle,
    axisLabel: { margin: 7, fontFamily: sans, fontSize: 15, color: '#000' }
  })
  xAxis.push({ ...xBase, position: 'top', axisLabel: { show: false } })

  yAxis.push({
    ...yBase,
    position: 'left',
    name: '{i|α} accepted',
    nameLocation: 'middle',
    nameGap: 25,
    nameTextStyle: nameStyle,
    axisLabel: { margin: 5, fontFamily: sans, fontSize: 15, color: '#000' }
  })
  yAxis.push({ ...yBase, position: 'right', axisLabel: { show: false } })

  series.push({
    type: 'scatter',
    xAxisIndex: 2 * i,
    yAxisIndex: 2 * i,
    data: allPoints[i],
    symbol: 'circle',
    symbolSize: 2.8,
    itemStyle: { color: '#000' },
    silent: true
  })

  title.push({
    text: '(' + panelLetters[i] + ')',
    left: b.titleX,
    top: b.titleY,
    textAlign: 'center',
    padding: 0,
    textStyle: { fontFamily: serif, fontSize: 16, fontWeight: 'normal', color: '#000' }
  })
  title.push({
    text: '(' + panelLetters[i] + ') {e|ε} = ' + epsValues[i],
    left: b.capX,
    top: b.capY,
    textAlign: 'center',
    padding: 0,
    textStyle: {
      fontFamily: serif,
      fontSize: 23,
      fontWeight: 'normal',
      color: '#000',
      rich: {
        e: { fontFamily: serif, fontSize: 23, fontStyle: 'italic', color: '#000' }
      }
    }
  })
})

const chart = echarts.init(document.getElementById('chart'))
chart.setOption({
  animation: false,
  backgroundColor: '#fff',
  title,
  grid,
  xAxis,
  yAxis,
  series
})
</script>
</body>
</html>
